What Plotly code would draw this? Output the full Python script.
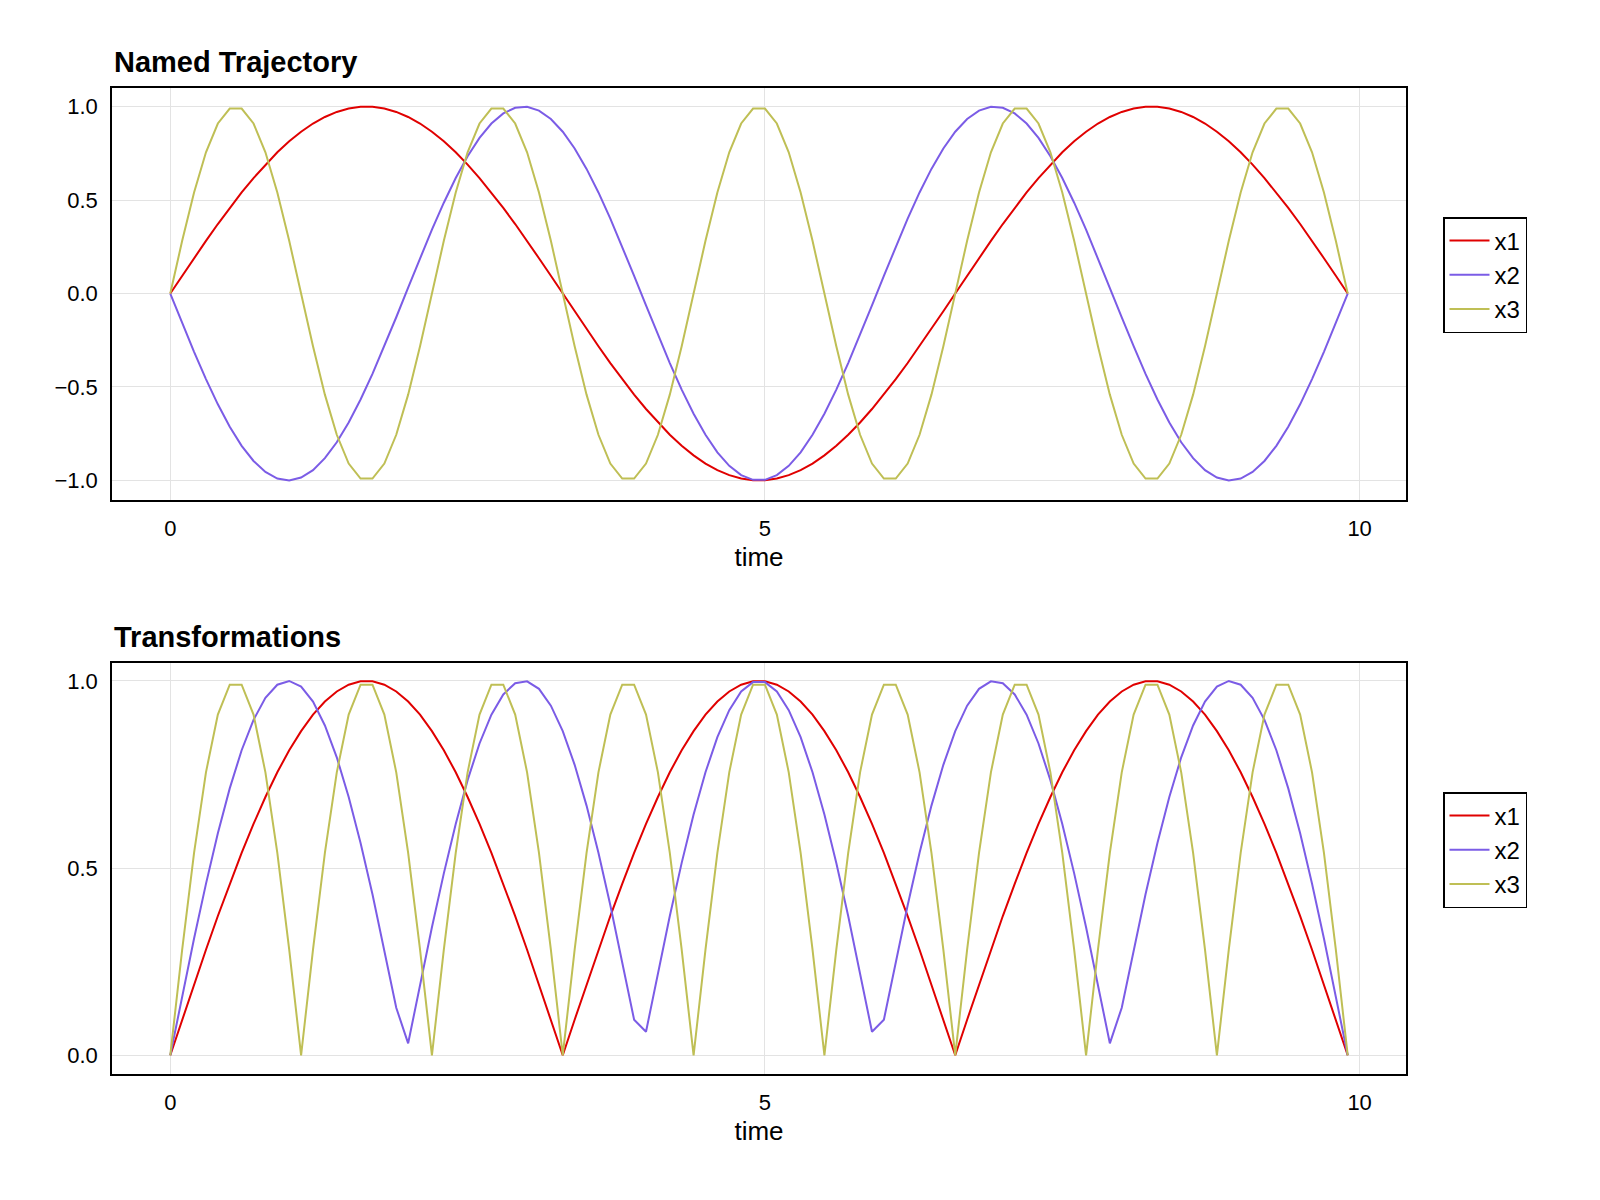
import plotly.graph_objects as go

time = [round(0.1 * i, 1) for i in range(100)]

x1 = [0, .095, .189, .282, .372, .458, .541, .618, .690, .756, .815, .866, .910, .945, .972, .990, .999,
      .999, .990, .972, .945, .910, .866, .815, .756, .690, .618, .541, .458, .372, .282, .189, .095,
      0, -.095, -.189, -.282, -.372, -.458, -.541, -.618, -.690, -.756, -.815, -.866, -.910, -.945, -.972, -.990, -.999,
      -.999, -.990, -.972, -.945, -.910, -.866, -.815, -.756, -.690, -.618, -.541, -.458, -.372, -.282, -.189, -.095,
      0, .095, .189, .282, .372, .458, .541, .618, .690, .756, .815, .866, .910, .945, .972, .990, .999,
      .999, .990, .972, .945, .910, .866, .815, .756, .690, .618, .541, .458, .372, .282, .189, .095, 0]

x2 = [0, -.158, -.312, -.458, -.593, -.713, -.815, -.896, -.955, -.990,
      -1.0, -.985, -.945, -.881, -.796, -.690, -.567, -.430, -.282, -.127,
      .032, .189, .342, .486, .618, .735, .833, .910, .964, .994,
      .999, .979, .934, .866, .776, .667, .541, .401, .251, .095,
      -.063, -.220, -.372, -.514, -.643, -.756, -.850, -.922, -.972, -.997,
      -.997, -.972, -.922, -.850, -.756, -.643, -.514, -.372, -.220, -.063,
      .095, .251, .401, .541, .667, .776, .866, .934, .979, .999,
      .994, .964, .910, .833, .735, .618, .486, .342, .189, .032,
      -.127, -.282, -.430, -.567, -.690, -.796, -.881, -.945, -.985, -1.0,
      -.990, -.955, -.896, -.815, -.713, -.593, -.458, -.312, -.158, 0]

x3 = [0, .282, .541, .756, .910, .990, .990, .910, .756, .541, .282,
      0, -.282, -.541, -.756, -.910, -.990, -.990, -.910, -.756, -.541, -.282,
      0, .282, .541, .756, .910, .990, .990, .910, .756, .541, .282,
      0, -.282, -.541, -.756, -.910, -.990, -.990, -.910, -.756, -.541, -.282,
      0, .282, .541, .756, .910, .990, .990, .910, .756, .541, .282,
      0, -.282, -.541, -.756, -.910, -.990, -.990, -.910, -.756, -.541, -.282,
      0, .282, .541, .756, .910, .990, .990, .910, .756, .541, .282,
      0, -.282, -.541, -.756, -.910, -.990, -.990, -.910, -.756, -.541, -.282,
      0, .282, .541, .756, .910, .990, .990, .910, .756, .541, .282, 0]

names = ["x1", "x2", "x3"]
colors = ["#e00000", "#7b5ce6", "#bfbf55"]
series = [x1, x2, x3]

fig = go.Figure()

# top panel: raw trajectory
for n, c, s in zip(names, colors, series):
    fig.add_trace(go.Scatter(x=time, y=s, mode="lines", name=n,
                             line=dict(color=c, width=2), xaxis="x", yaxis="y", legend="legend"))

# bottom panel: absolute value
for n, c, s in zip(names, colors, series):
    fig.add_trace(go.Scatter(x=time, y=[abs(v) for v in s], mode="lines", name=n,
                             line=dict(color=c, width=2), xaxis="x2", yaxis="y2", legend="legend2"))

axis_common = dict(showline=True, mirror=True, linecolor="black", linewidth=1.5,
                   showgrid=True, gridcolor="#e3e3e3", zeroline=False,
                   tickfont=dict(size=22, color="black"), ticks="", ticklabelstandoff=8)
dom_x = [104 / 1600, 1398 / 1600]

legend_common = dict(bordercolor="black", borderwidth=1.5, bgcolor="white",
                     font=dict(size=24, color="black"), xanchor="left", yanchor="top",
                     itemwidth=40, tracegroupgap=0)

fig.update_layout(
    width=1600, height=1200, autosize=False,
    margin=dict(l=0, r=0, t=0, b=0),
    paper_bgcolor="white", plot_bgcolor="white",
    font=dict(family="Liberation Sans, Arial, sans-serif", color="black"),
    xaxis=dict(domain=dom_x, anchor="y", range=[-0.49, 10.39], tickvals=[0, 5, 10],
               title=dict(text="time", font=dict(size=26), standoff=8), **axis_common),
    yaxis=dict(domain=[1 - 492 / 1200, 1 - 80 / 1200], anchor="x", range=[-1.105, 1.1],
               tickvals=[-1, -0.5, 0, 0.5, 1], tickformat=".1f", **axis_common),
    xaxis2=dict(domain=dom_x, anchor="y2", range=[-0.49, 10.39], tickvals=[0, 5, 10],
                title=dict(text="time", font=dict(size=26), standoff=8), **axis_common),
    yaxis2=dict(domain=[1 - 1066 / 1200, 1 - 655 / 1200], anchor="x2", range=[-0.05, 1.048],
                tickvals=[0, 0.5, 1], tickformat=".1f", **axis_common),
    legend=dict(x=1435 / 1600, y=1 - 209 / 1200, **legend_common),
    legend2=dict(x=1435 / 1600, y=1 - 784 / 1200, **legend_common),
    annotations=[
        dict(text="<b>Named Trajectory</b>", x=104 / 1600, y=1 - 72 / 1200, xref="paper", yref="paper",
             xanchor="left", yanchor="bottom", showarrow=False, font=dict(size=29)),
        dict(text="<b>Transformations</b>", x=104 / 1600, y=1 - 647 / 1200, xref="paper", yref="paper",
             xanchor="left", yanchor="bottom", showarrow=False, font=dict(size=29)),
    ],
)

fig.write_html("out.html")
